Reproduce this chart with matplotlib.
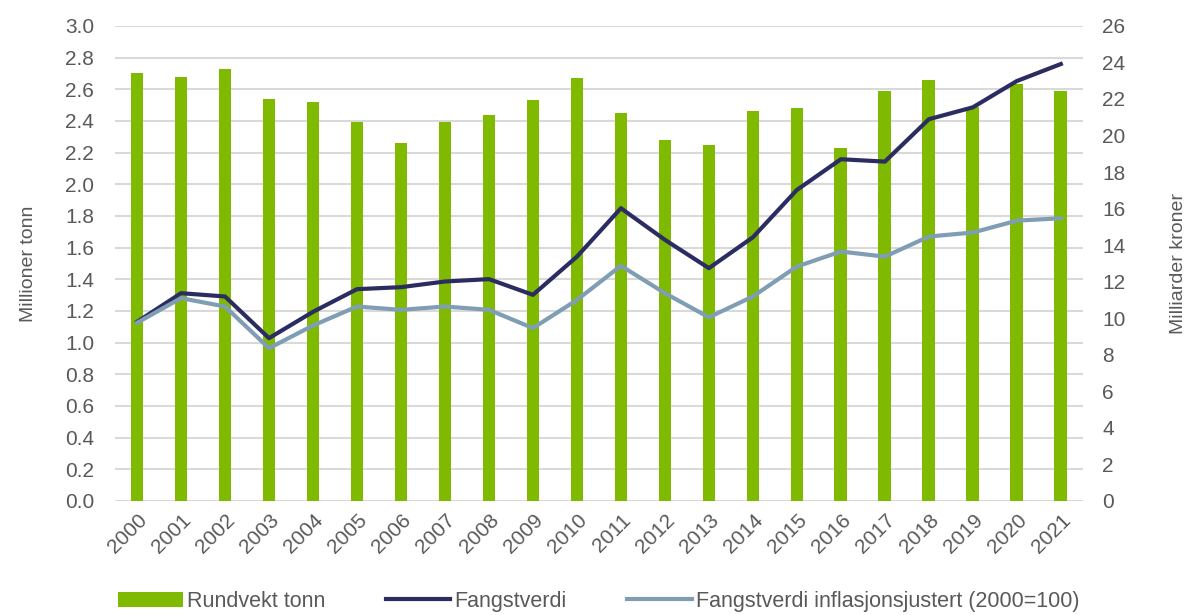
import matplotlib.pyplot as plt
import numpy as np

plt.rcParams['font.family'] = ['Liberation Sans', 'DejaVu Sans']

years = [str(y) for y in range(2000, 2022)]

# Rundvekt, millioner tonn (venstre akse)
rundvekt = [2.70, 2.68, 2.73, 2.54, 2.52, 2.39, 2.26, 2.39, 2.44, 2.53, 2.67,
            2.45, 2.28, 2.25, 2.46, 2.48, 2.23, 2.59, 2.66, 2.49, 2.63, 2.59]

# Fangstverdi, milliarder kroner (hoyre akse)
fangstverdi = [9.8, 11.37, 11.19, 8.91, 10.35, 11.59, 11.70, 12.01, 12.14, 11.28, 13.37,
               16.02, 14.29, 12.74, 14.43, 17.02, 18.70, 18.57, 20.89, 21.54, 22.98, 23.91]
fangstverdi_infl = [9.75, 11.10, 10.64, 8.36, 9.60, 10.64, 10.46, 10.64, 10.46, 9.46, 11.0,
                    12.87, 11.37, 10.05, 11.19, 12.83, 13.65, 13.37, 14.47, 14.69, 15.34, 15.47]

green = "#7fba00"
navy = "#2b2d62"
steel = "#7f9db3"
grey_txt = "#595959"

fig = plt.figure(figsize=(11.86, 6.15), dpi=100)
ax = fig.add_axes([0.097, 0.1854, 0.816, 0.7726])
ax2 = ax.twinx()

x = np.arange(len(years))
bars = ax.bar(x, rundvekt, width=0.29, color=green, zorder=2, label="Rundvekt tonn")
l1, = ax2.plot(x, fangstverdi, color=navy, lw=3.0, solid_joinstyle="round", label="Fangstverdi")
l2, = ax2.plot(x, fangstverdi_infl, color=steel, lw=3.0, solid_joinstyle="round",
               label="Fangstverdi inflasjonsjustert (2000=100)")

ax.set_xlim(-0.5, len(years) - 0.5)
ax.set_ylim(0, 3.0)
ax.set_yticks(np.arange(0, 3.01, 0.2))
ax.set_yticklabels([f"{v:.1f}" for v in np.arange(0, 3.01, 0.2)])
ax2.set_ylim(0, 26)
ax2.set_yticks(range(0, 27, 2))

ax.yaxis.grid(True, color="#d9d9d9", lw=1.5, zorder=0)
ax.set_axisbelow(True)

ax.set_xticks(x)
ax.set_xticklabels(years, rotation=45, ha="right", rotation_mode="anchor")

for a in (ax, ax2):
    for s in a.spines.values():
        s.set_visible(False)
    a.tick_params(length=0, labelsize=15, labelcolor=grey_txt)
ax.tick_params(axis="y", pad=15)
ax.tick_params(axis="x", pad=7)
ax2.tick_params(axis="y", pad=14)

ax.set_ylabel("Millioner tonn", fontsize=14, color=grey_txt, labelpad=20)
ax2.set_ylabel("Milliarder kroner", fontsize=14, color=grey_txt, labelpad=32)

fig.legend(handles=[bars, l1, l2], loc="center", bbox_to_anchor=(0.505, 0.022), ncol=3,
           frameon=False, fontsize=15.5, handlelength=3.0, handletextpad=0.2,
           columnspacing=2.8, labelcolor=grey_txt)

fig.savefig("out.png", dpi=100)
